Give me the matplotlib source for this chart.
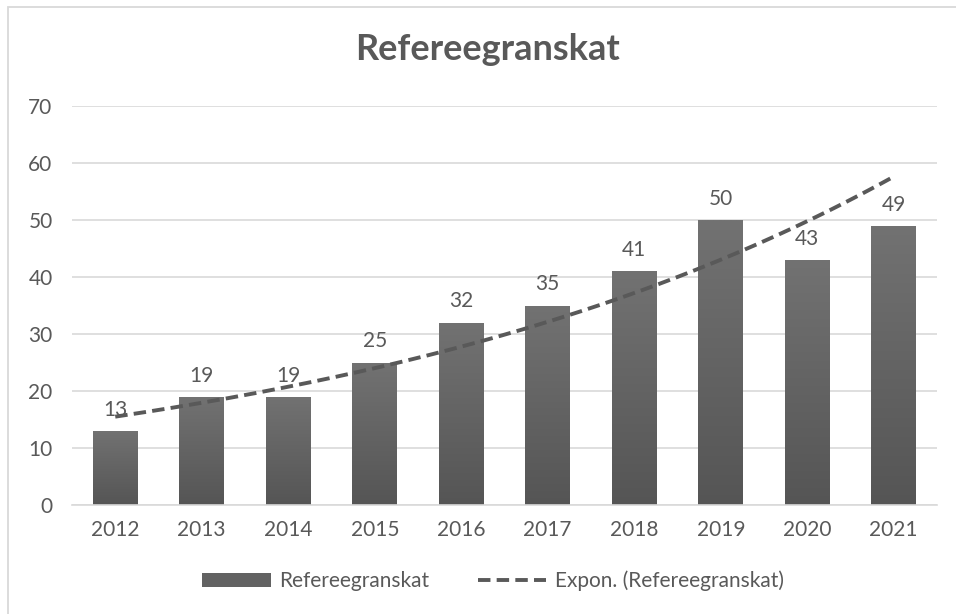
import numpy as np
import matplotlib
matplotlib.use("Agg")
import matplotlib.pyplot as plt
from matplotlib.patches import Rectangle, Patch
from matplotlib.lines import Line2D
from matplotlib.colors import LinearSegmentedColormap

years = ["2012", "2013", "2014", "2015", "2016", "2017", "2018", "2019", "2020", "2021"]
values = [13, 19, 19, 25, 32, 35, 41, 50, 43, 49]
title = "Refereegranskat"
series_name = "Refereegranskat"
trend_name = "Expon. (Refereegranskat)"
yticks = [0, 10, 20, 30, 40, 50, 60, 70]

plt.rcParams['font.family'] = ['Lato', 'DejaVu Sans']
txt = "#595959"
grid_c = "#d9d9d9"

fig = plt.figure(figsize=(9.56, 6.14), dpi=100)
ax = fig.add_axes([72/956, 1-505/614, (937-72)/956, (505-106)/614])

# chart border (partly cropped in reference)
fig.patches.append(Rectangle((8/956, -0.1), 1.2, 1 - 6.5/614 + 0.1, transform=fig.transFigure,
                             fill=False, edgecolor="#d9d9d9", linewidth=1.3, zorder=0))

x = np.arange(len(years))
bars = ax.bar(x, values, width=0.52, color="#636363", zorder=2)

cmap = LinearSegmentedColormap.from_list("g", ["#555555", "#727272"])
grad = np.linspace(0, 1, 256).reshape(-1, 1)
for b in bars:
    x0, w, h = b.get_x(), b.get_width(), b.get_height()
    im = ax.imshow(grad, extent=[x0, x0 + w, 0, h], origin="lower", cmap=cmap,
                   aspect="auto", zorder=2.1)
    im.set_clip_path(b)

for xi, v in zip(x, values):
    ax.annotate(str(v), (xi, v), xytext=(0, 8), textcoords="offset points",
                ha="center", va="bottom", fontsize=15, color=txt, zorder=3)

# exponential trend fit
coef = np.polyfit(x + 1, np.log(values), 1)
xf = np.linspace(0, len(years) - 1, 200)
yf = np.exp(coef[1]) * np.exp(coef[0] * (xf + 1))
ax.plot(xf, yf, color=txt, linewidth=2.8, dashes=(3.2, 1.6), zorder=4)

ax.set_xlim(-0.5, len(years) - 0.5)
ax.set_ylim(0, 70)
ax.set_yticks(yticks)
ax.set_xticks(x)
ax.set_xticklabels(years)
ax.grid(axis="y", color=grid_c, linewidth=1.2, zorder=0)
ax.set_axisbelow(True)
for s in ["top", "right", "left"]:
    ax.spines[s].set_visible(False)
ax.spines["bottom"].set_color(grid_c)
ax.spines["bottom"].set_linewidth(1.2)
ax.tick_params(axis="both", length=0, labelsize=15, labelcolor=txt)
ax.tick_params(axis="y", pad=14)
ax.tick_params(axis="x", pad=11)

fig.text(488/956, 1-50/614, title, ha="center", va="center", fontsize=26,
         fontweight="bold", color=txt)

handles = [Patch(facecolor="#626262", edgecolor="none"),
           Line2D([], [], color=txt, linewidth=2.8, dashes=(3.2, 1.6))]
fig.legend(handles, [series_name, trend_name], loc="center", bbox_to_anchor=(493/956, 1-581/614),
           ncol=2, frameon=False, fontsize=15, labelcolor=txt, handlelength=3.3,
           handleheight=0.6, handletextpad=0.4, columnspacing=2.3)

fig.savefig("out.png", dpi=100)
